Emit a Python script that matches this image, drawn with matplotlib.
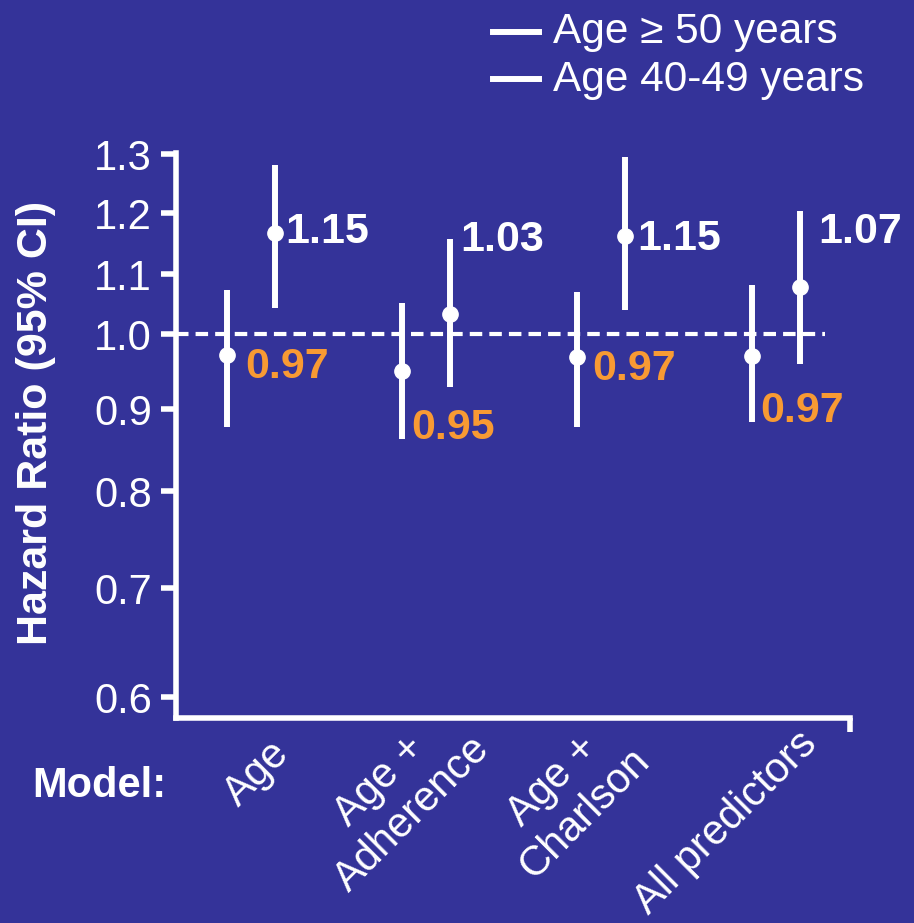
import numpy as np
import matplotlib.pyplot as plt
from matplotlib.lines import Line2D

plt.rcParams['font.family'] = ['Liberation Sans', 'DejaVu Sans']

#Data
models = ["Age", "Age +\nAdherence", "Age +\nCharlson", "All predictors"]
groups = ["Age \u2265 50 years", "Age 40-49 years"]

hr_50 = [0.972, 0.951, 0.969, 0.971]
lo_50 = [0.878, 0.863, 0.878, 0.884]
hi_50 = [1.073, 1.052, 1.070, 1.082]
text_50 = ["0.97", "0.95", "0.97", "0.97"]

hr_40 = [1.167, 1.033, 1.162, 1.078]
lo_40 = [1.043, 0.929, 1.040, 0.960]
hi_40 = [1.281, 1.157, 1.295, 1.203]
text_40 = ["1.15", "1.03", "1.15", "1.07"]

y_ticks = [0.6, 0.7, 0.8, 0.9, 1.0, 1.1, 1.2, 1.3]

#Layout
bg = "#343399"
orange = "#F89A33"
px_per_cat = 175.3
off = 24 / px_per_cat

#the value axis is unevenly spaced in the original: tick heights in pixels
tick_px = [0, 109, 206, 288, 363, 423, 484, 543]
v_ext = [0.0] + y_ticks + [3.0]
p_ext = [-109 * 6] + tick_px + [543 + 59 * 17]

def fwd(v):
    return np.interp(v, v_ext, p_ext)

def inv(p):
    return np.interp(p, p_ext, v_ext)

#label placement (baseline value, x shift in pixels from the bar)
base_50 = [0.9413, 0.8634, 0.9387, 0.8841]
dx_50 = [18, 9, 15, 8]
base_40 = [1.1508, 1.1377, 1.1393, 1.1508]
dx_40 = [10, 10, 12, 18]
lab_dx = [46, 72, 57, 49]
lab_dy = [-44, -39, -51, -34]

W, H = 914, 923
fig = plt.figure(figsize=(W / 100, H / 100), dpi=100, facecolor=bg)
ax = fig.add_axes([175.5 / W, 1 - 717.8 / H, (850 - 175.5) / W, (717.8 - 153) / H])
ax.set_facecolor(bg)
ax.set_yscale('function', functions=(fwd, inv))
ax.set_ylim(0.581, 1.302)
x0 = -75.5 / px_per_cat
x1 = 600 / px_per_cat
ax.set_xlim(x0, x1)

x = np.arange(len(models))

#reference line at HR = 1
ax.plot([x0, 575 / px_per_cat], [1.0, 1.0], color="white", lw=3,
        dashes=(3.0, 1.7), zorder=1)

#error bars
for xs, hr, lo, hi in [(x - off, hr_50, lo_50, hi_50), (x + off, hr_40, lo_40, hi_40)]:
    hr = np.array(hr)
    err = [hr - np.array(lo), np.array(hi) - hr]
    ax.errorbar(xs, hr, yerr=err, fmt='o', color="white", ms=11,
                elinewidth=4.3, capsize=0, zorder=3)

#value labels
for i in range(len(models)):
    ax.annotate(text_50[i], xy=(x[i] - off, base_50[i]), xytext=(dx_50[i], 0),
                textcoords='offset pixels', ha='left', va='baseline',
                color=orange, fontsize=31, fontweight='bold')
    ax.annotate(text_40[i], xy=(x[i] + off, base_40[i]), xytext=(dx_40[i], 0),
                textcoords='offset pixels', ha='left', va='baseline',
                color="white", fontsize=31, fontweight='bold')

#axes styling
for s in ["top", "right"]:
    ax.spines[s].set_visible(False)
for s in ["left", "bottom"]:
    ax.spines[s].set_color("white")
    ax.spines[s].set_linewidth(4)

ax.set_yticks(y_ticks)
ax.set_yticklabels(["%.1f" % v for v in y_ticks])
ax.yaxis.set_minor_locator(plt.NullLocator())
ax.tick_params(axis='y', colors="white", length=11, width=4, pad=6, labelsize=30)

ax.set_xticks(x)
ax.set_xticklabels([""] * len(models))
ax.set_xticks([x1], minor=True)
ax.tick_params(axis='x', which='major', length=0)
ax.tick_params(axis='x', which='minor', length=10, width=4, color="white")

#model names
for i in range(len(models)):
    ax.annotate(models[i], xy=(x[i], 0), xycoords=ax.get_xaxis_transform(),
                xytext=(lab_dx[i], lab_dy[i]), textcoords='offset pixels',
                rotation=45, rotation_mode='anchor', ha='right', va='bottom',
                multialignment='center', color="white", fontsize=30)

fig.text(32 / W, 1 - 797 / H, "Model:", color="white", fontsize=30,
         fontweight='bold', ha='left', va='baseline')
fig.text(47 / W, 1 - 422.5 / H, "Hazard Ratio (95% CI)", color="white",
         fontsize=31, fontweight='bold', rotation=90, rotation_mode='anchor',
         ha='center', va='baseline')

#legend
for k, ly in enumerate([32, 79]):
    fig.add_artist(Line2D([493 / W, 539 / W], [1 - ly / H, 1 - ly / H],
                          transform=fig.transFigure, color="white", lw=4.3))
    fig.text(553 / W, 1 - (ly + 11.5) / H, groups[k], color="white",
             fontsize=30.5, ha='left', va='baseline')

fig.savefig("out.png", dpi=100, facecolor=bg)
